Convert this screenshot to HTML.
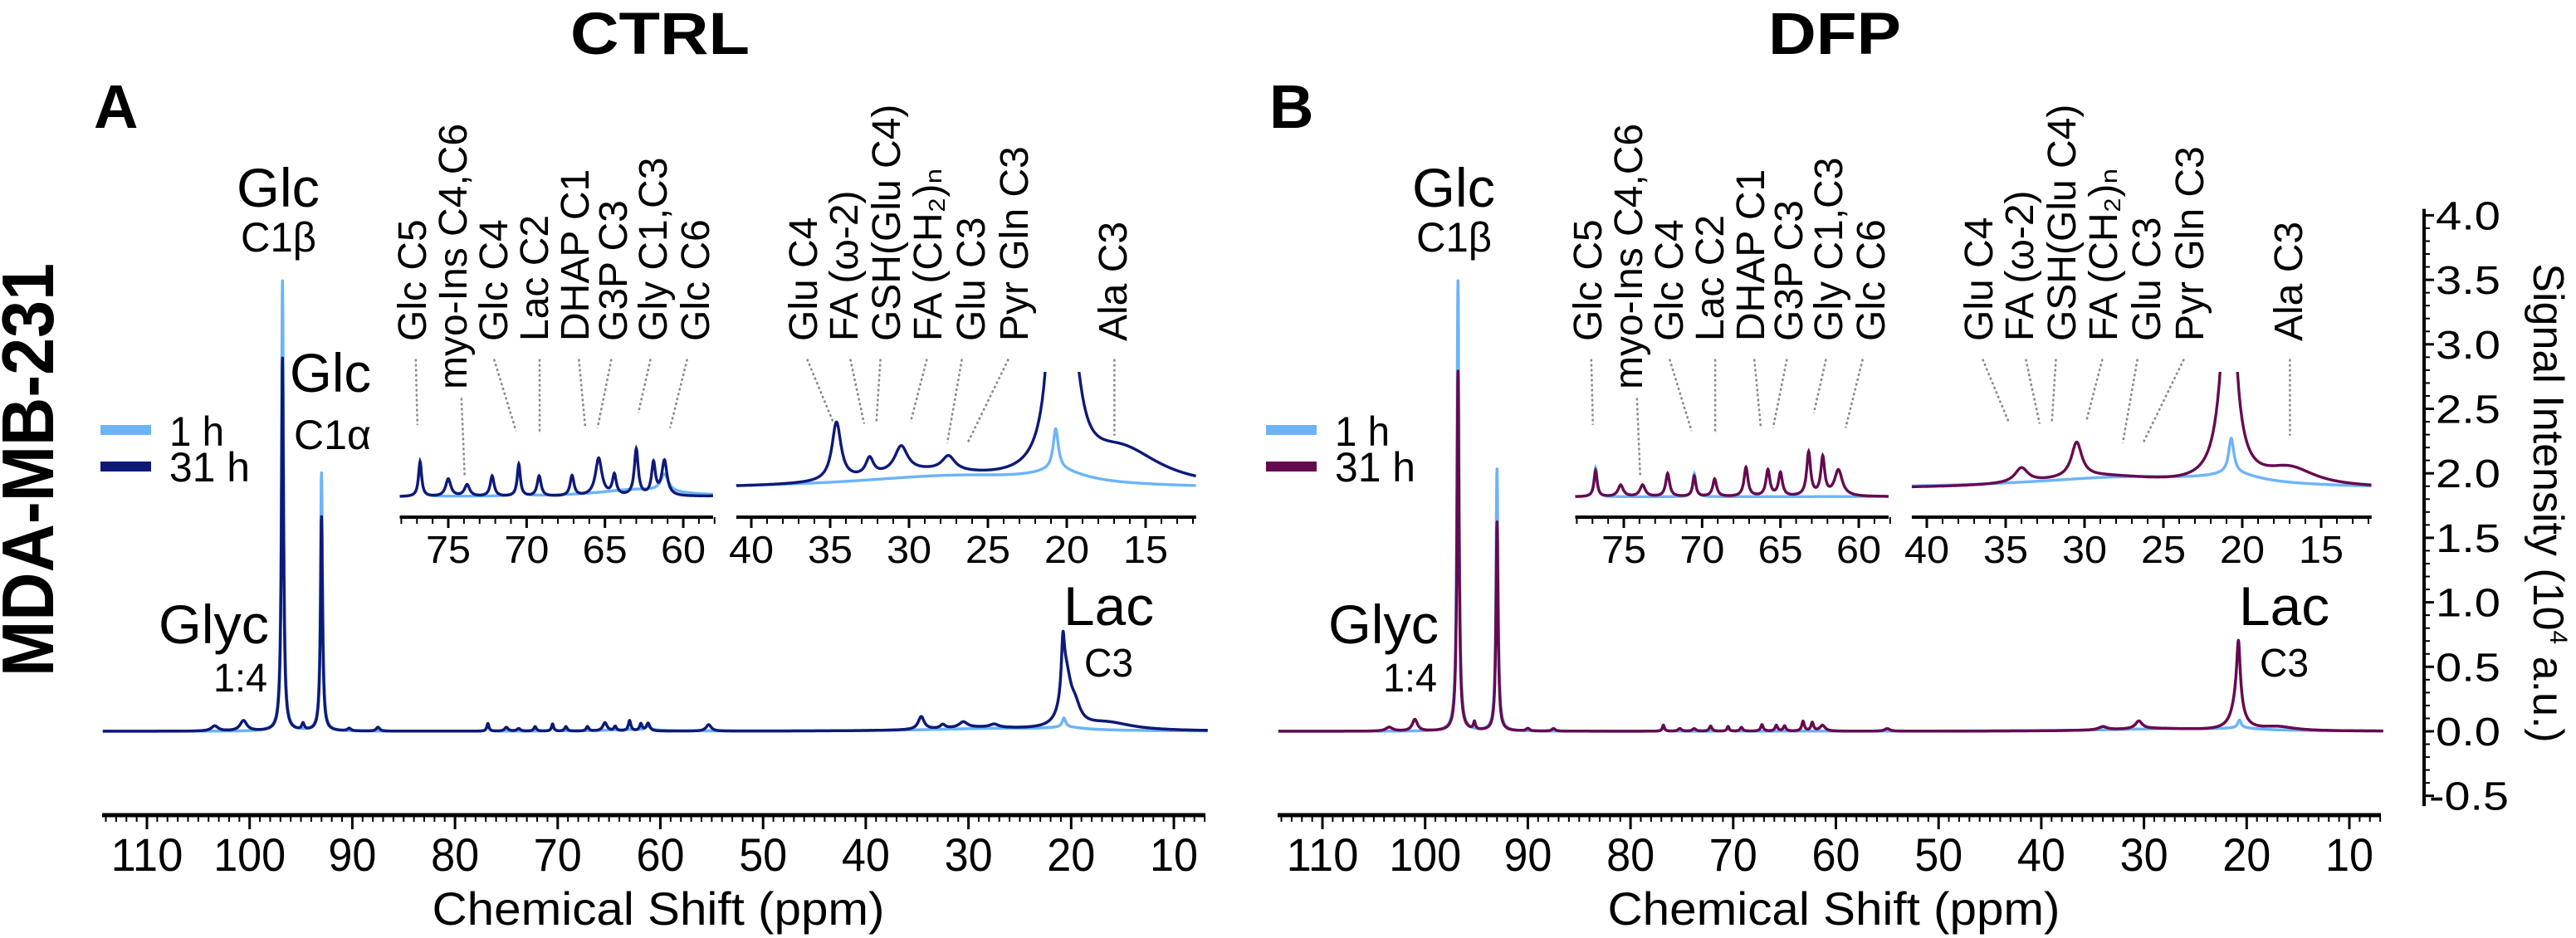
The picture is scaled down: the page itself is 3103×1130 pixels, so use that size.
<!DOCTYPE html>
<html><head><meta charset="utf-8"><style>
html,body{margin:0;padding:0;background:#fff;}
svg{display:block;font-family:"Liberation Sans",sans-serif;}
</style></head><body>
<svg id="fig" width="3103" height="1130" viewBox="0 0 3103 1130" xmlns="http://www.w3.org/2000/svg">
<defs>
<clipPath id="clipL1"><rect x="470" y="448" width="400" height="176"/></clipPath>
<clipPath id="clipL2"><rect x="880" y="448" width="570" height="176"/></clipPath>
<clipPath id="clipR1"><rect x="1886" y="448" width="400" height="176"/></clipPath>
<clipPath id="clipR2"><rect x="2296" y="448" width="570" height="176"/></clipPath>
</defs>
<text x="795" y="65" font-size="71" font-weight="bold" text-anchor="middle" textLength="216" lengthAdjust="spacingAndGlyphs">CTRL</text>
<text x="2210" y="65" font-size="71" font-weight="bold" text-anchor="middle" textLength="160" lengthAdjust="spacingAndGlyphs">DFP</text>
<text x="113" y="154" font-size="74" font-weight="bold">A</text>
<text x="1529" y="154" font-size="74" font-weight="bold">B</text>
<text transform="translate(64,566) rotate(-90)" font-size="88" font-weight="bold" text-anchor="middle" textLength="498" lengthAdjust="spacingAndGlyphs">MDA-MB-231</text>

<g id="labels" font-size="66"></g>
<g id="plot"></g>
</svg>
<script>
// ---- data (values in 10^4 a.u.; peaks as [center ppm, height, half-width ppm]) ----
const ctrlPeaks1h = [[96.8,3.49,0.12],[93.0,2.0,0.12],[20.7,0.07,0.2],[76.8,0.06,0.12],[70.5,0.055,0.12],[61.2,0.03,0.3],[63,0.012,3],[27,0.022,8],[20.5,0.02,2]];
const ctrlPeaks31h = [[96.8,2.89,0.12],[93.0,1.66,0.12],[103.4,0.04,0.4],[100.6,0.08,0.4],[94.8,0.05,0.15],[90.3,0.02,0.2],[87.5,0.03,0.2],
 [76.8,0.06,0.12],[75.0,0.03,0.2],[73.8,0.02,0.2],[72.2,0.035,0.15],[70.5,0.055,0.12],[69.2,0.035,0.15],[67.1,0.035,0.15],[65.4,0.065,0.25],[64.4,0.035,0.15],[63.0,0.08,0.15],[61.9,0.055,0.15],[61.2,0.06,0.2],[55.3,0.05,0.3],
 [34.6,0.1,0.35],[32.5,0.03,0.3],[30.5,0.045,0.5],[27.5,0.025,0.5],[29,0.025,5],[20.8,0.4,0.18],[20.5,0.4,0.6],[19.6,0.12,0.6],[16.5,0.06,3]];
const dfpPeaks1h = [[96.8,3.49,0.12],[93.0,2.03,0.12],[20.7,0.06,0.2],[76.8,0.05,0.12],[70.5,0.04,0.12],[27,0.02,8],[20.5,0.015,2]];
const dfpPeaks31h = [[96.8,2.79,0.12],[93.0,1.62,0.12],[103.5,0.03,0.4],[101.0,0.09,0.3],[95.2,0.06,0.12],[90.0,0.02,0.2],[87.5,0.02,0.2],
 [76.8,0.045,0.12],[75.2,0.02,0.2],[73.8,0.02,0.2],[72.2,0.04,0.15],[70.5,0.035,0.12],[69.2,0.03,0.15],[67.2,0.05,0.15],[65.8,0.045,0.15],[65.0,0.04,0.15],[63.2,0.075,0.15],[62.3,0.065,0.15],[61.3,0.045,0.3],[55.0,0.02,0.3],
 [34.0,0.025,0.5],[30.5,0.06,0.4],[29,0.02,5],[20.8,0.45,0.2],[20.9,0.25,0.6],[17.0,0.03,2]];
const mainTicks = [110,100,90,80,70,60,50,40,30,20,10];
const inset1Ticks = [75,70,65,60];
const inset2Ticks = [40,35,30,25,20,15];
const yTicks = [-0.5,0,0.5,1,1.5,2,2.5,3,3.5,4];
const yTickLabels = ["-0.5","0.0","0.5","1.0","1.5","2.0","2.5","3.0","3.5","4.0"];
const insetLabels1 = ["Glc C5","myo-Ins C4,C6","Glc C4","Lac C2","DHAP C1","G3P C3","Gly C1,C3","Glc C6"];
const insetLabels2 = ["Glu C4","FA (ω-2)","GSH(Glu C4)","FA (CH₂)ₙ","Glu C3","Pyr Gln C3","Ala C3"];

const NS = "http://www.w3.org/2000/svg";
const plot = document.getElementById('plot');
const C1H = "#6cb4f8";
function mk(tag, attrs, parent){ const e=document.createElementNS(NS,tag); for(const k in attrs) e.setAttribute(k,attrs[k]); (parent||plot).appendChild(e); return e; }
function spec(peaks, ppm){ let v=0; for(const p of peaks){ const d=(ppm-p[0])/p[2]; v+=p[1]/(1+d*d);} return v; }
const xMain = (ppm,off)=> off+177+(110-ppm)*12.37;
const yMain = v => 881 - v*155.4;
const xIn1 = (ppm,off)=> off+540+(75-ppm)*18.87;
const xIn2 = (ppm,off)=> off+905+(40-ppm)*19.0;
const yIn1 = v => 599 - v*700;
const yIn2 = v => 589 - v*700;

function tracePath(peaks, p0, p1, xf, yf, off){
  let d=""; for(let p=p0; p>=p1; p-=0.02){ d += (d?"L":"M")+xf(p,off).toFixed(1)+" "+yf(spec(peaks,p)).toFixed(1); } return d;
}

const panels = [
 {off:0, p1:ctrlPeaks1h, p31:ctrlPeaks31h, col:"#0d1a78", c1:"clipL1", c2:"clipL2"},
 {off:1416, p1:dfpPeaks1h, p31:dfpPeaks31h, col:"#660a50", c1:"clipR1", c2:"clipR2"}
];

panels.forEach((P,pi)=>{
  const o=P.off;
  let e=mk('path',{d:tracePath(P.p1,114.3,6.7,xMain,yMain,o),fill:"none",stroke:C1H,"stroke-width":3.5,"stroke-linejoin":"round"});
  
  
  e=mk('path',{d:tracePath(P.p31,114.3,6.7,xMain,yMain,o),fill:"none",stroke:P.col,"stroke-width":3.5,"stroke-linejoin":"round"});
  
  
  [[xIn1,yIn1,78.1,58.1,P.c1],[xIn2,yIn2,40.95,11.8,P.c2]].forEach((I,ii)=>{
    let a=mk('path',{d:tracePath(P.p1,I[2],I[3],I[0],I[1],o),fill:"none",stroke:C1H,"stroke-width":3.4,"clip-path":"url(#"+I[4]+")"});
    
    
    a=mk('path',{d:tracePath(P.p31,I[2],I[3],I[0],I[1],o),fill:"none",stroke:P.col,"stroke-width":3.4,"clip-path":"url(#"+I[4]+")"});
    
    
  });
  let ax=mk('line',{x1:o+123,x2:o+1452,y1:982,y2:982,stroke:"#000","stroke-width":5});
  
  
  for(let p=114;p>=7;p--){ const x=xMain(p,o); const maj=(p%10===0);
    const t=mk('line',{x1:x,x2:x,y1:982,y2:maj?999:990,stroke:"#000","stroke-width":maj?3:2});
    
     }
  mainTicks.forEach(p=>{ const s=String(p);
    const t=mk('text',{x:xMain(p,o),y:1049,"font-size":56,"text-anchor":"middle",textLength:s.length*29,lengthAdjust:"spacingAndGlyphs"}); t.textContent=s;
    
     });
  const xt=mk('text',{x:o+793,y:1114,"font-size":56,"text-anchor":"middle",textLength:545,lengthAdjust:"spacingAndGlyphs"}); xt.textContent="Chemical Shift (ppm)";
  
  
  [[xIn1,78,58,inset1Ticks,78.1,58.1],[xIn2,40,12,inset2Ticks,40.95,11.8]].forEach(A=>{
    const l=mk('line',{x1:A[0](A[4],o),x2:A[0](A[5],o),y1:623,y2:623,stroke:"#000","stroke-width":4});
    
    
    for(let p=A[1];p>=A[2];p--){ const x=A[0](p,o); const maj=(p%5===0);
      const t=mk('line',{x1:x,x2:x,y1:623,y2:maj?636:631,stroke:"#000","stroke-width":maj?3:2});
      
       }
    A[3].forEach(p=>{ const t=mk('text',{x:A[0](p,o),y:678,"font-size":46,"text-anchor":"middle",textLength:54,lengthAdjust:"spacingAndGlyphs"}); t.textContent=String(p);
      
       });
  });
  const lbl1x=[496,545,594,643,692,738,786,837], lb1=[411,469,411,411,411,411,411,411];
  const ln1=[[510,600,512,710],[566,665,570,795],[606,600,633,720],[662,600,662,725],[710,600,718,715],[750,600,733,715],[798,600,783,690],[843,600,822,715]];
  const lbl2x=[967,1016,1067,1117,1169,1221,1340];
  const ln2=[[990,600,1022,705],[1043,600,1060,708],[1080,600,1075,705],[1137,600,1117,705],[1180,600,1162,740],[1237,600,1187,740],[1367,600,1367,728]];
  insetLabels1.forEach((s,i)=>{ const t=mk('text',{transform:`translate(${o+lbl1x[i]+17},${lb1[i]}) rotate(-90)`,"font-size":48}); t.textContent=s;
    
    
    const L=ln1[i]; const d=mk('line',{x1:o+L[0]*0.982,y1:L[1]/1.387,x2:o+L[2]*0.982,y2:L[3]/1.387,stroke:"#888","stroke-width":2.5,"stroke-dasharray":"3 3"});
    
     });
  insetLabels2.forEach((s,i)=>{ const t=mk('text',{transform:`translate(${o+lbl2x[i]+17},411) rotate(-90)`,"font-size":48}); t.textContent=s;
    
    
    const L=ln2[i]; const d=mk('line',{x1:o+L[0]*0.982,y1:L[1]/1.387,x2:o+L[2]*0.982,y2:L[3]/1.387,stroke:"#888","stroke-width":2.5,"stroke-dasharray":"3 3"});
    
     });
  const lo = pi===0?0:1404;
  let b=mk('rect',{x:lo+121,y:512,width:61,height:12,fill:C1H});
  
  
  b=mk('rect',{x:lo+121,y:556,width:61,height:12,fill:P.col});
  
  
  let lt=mk('text',{x:lo+204,y:537,"font-size":50,textLength:66,lengthAdjust:"spacingAndGlyphs"}); lt.textContent="1 h";
  
  
  lt=mk('text',{x:lo+204,y:580,"font-size":50,textLength:97,lengthAdjust:"spacingAndGlyphs"}); lt.textContent="31 h";
  
  
  const pl=[["Glc",285,249,66,100],["C1β",290,303,50,91],["Glyc",pi?184:191,775,66,133],["1:4",pi?250:257,833,48,65],["Lac",1281,753,66,109],["C3",1306,815,48,59]];
  if(pi===0){ pl.push(["Glc",349,472,66,98]); pl.push(["C1α",354,541,50,93]); }
  pl.forEach(q=>{ const t=mk('text',{x:o+q[1],y:q[2],"font-size":q[3],textLength:q[4],lengthAdjust:"spacingAndGlyphs"}); t.textContent=q[0];
    
     });
});
let ya=mk('line',{x1:2920,x2:2920,y1:yMain(4.05),y2:yMain(-0.58),stroke:"#000","stroke-width":4});


for(let k=-5;k<=40;k++){ const v=k/10; const maj=(k%5===0);
  const t=mk('line',{x1:2920,x2:maj?2932:2927,y1:yMain(v),y2:yMain(v),stroke:"#000","stroke-width":maj?3:2});
  
   }
yTicks.forEach((v,i)=>{ const s=yTickLabels[i];
  const t=mk('text',{x:s.length>3?2926:2934,y:yMain(v)+17,"font-size":48,textLength:s.length>3?96:78,lengthAdjust:"spacingAndGlyphs"}); t.textContent=s;
  
   });
const yt=mk('text',{transform:"translate(3052,606) rotate(90)","font-size":52,"text-anchor":"middle"});


yt.innerHTML='Signal Intensity (10<tspan font-size="30" dy="-20">4</tspan><tspan dy="20"> a.u.)</tspan>';
</script>
</body></html>
